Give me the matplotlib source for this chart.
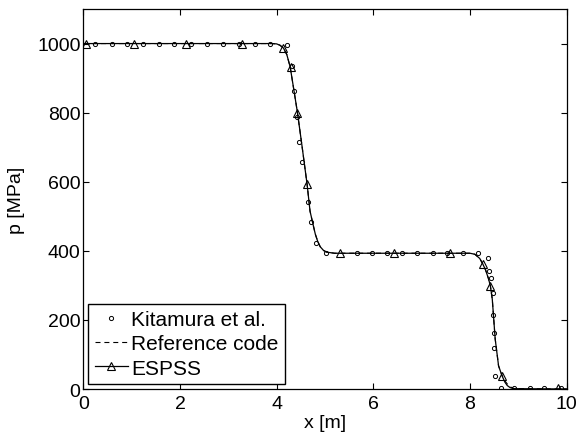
import matplotlib
matplotlib.use("Agg")
import matplotlib.pyplot as plt
from matplotlib.lines import Line2D

plt.rcParams['font.family'] = ['Liberation Sans', 'DejaVu Sans']

# Kitamura et al. (circles)
kit_x = [0.24, 0.59, 0.90, 1.24, 1.57, 1.88, 2.22, 2.56, 2.89, 3.23, 3.55, 3.87,
         4.22, 4.31, 4.36, 4.42, 4.47, 4.52, 4.64, 4.71, 4.81, 5.02,
         5.66, 5.97, 6.28, 6.59, 6.90, 7.23, 7.52, 7.85, 8.16, 8.38, 8.40,
         8.44, 8.47, 8.47, 8.49, 8.50, 8.52, 8.64, 8.90, 9.23, 9.54, 9.88]
kit_p = [1000, 1000, 1000, 1000, 1000, 1000, 1000, 1000, 1000, 1000, 1000, 1000,
         995, 934, 862, 787, 716, 656, 540, 483, 424, 395,
         393, 393, 393, 393, 393, 393, 393, 393, 395, 380, 342,
         320, 279, 215, 162, 119, 39, 4, 3, 3, 3, 3]

# ESPSS (solid line)
esp_x = [0.0, 3.90, 4.00, 4.07, 4.14, 4.21, 4.28, 4.36, 4.43, 4.52, 4.63, 4.69,
         4.75, 4.80, 4.85, 4.90, 4.97, 5.04, 5.20, 8.00, 8.10, 8.20, 8.26, 8.32,
         8.38, 8.42, 8.46, 8.52, 8.59, 8.66, 8.72, 8.77, 8.83, 8.90, 10.0]
esp_p = [1000, 1000, 999, 995, 987, 968, 932, 862, 800, 708, 592, 515,
         478, 448, 427, 412, 401, 396, 393, 393, 390, 378, 363, 345,
         320, 299, 260, 145, 67, 39, 20, 10, 4, 1, 0]

# ESPSS markers (triangles)
esp_mx = [0.05, 1.04, 2.13, 3.28, 4.14, 4.29, 4.43, 4.63, 5.31, 6.42, 7.58,
          8.26, 8.42, 8.66, 9.81]
esp_mp = [1000, 1000, 1000, 1000, 987, 932, 800, 592, 394, 394, 394,
          363, 299, 39, 2]

# Reference code (dashed line)
ref_x = [0.0, 3.90, 4.00, 4.07, 4.14, 4.21, 4.28, 4.36, 4.43, 4.52, 4.63, 4.69,
         4.75, 4.80, 4.85, 4.90, 4.97, 5.04, 5.20, 8.00, 8.10, 8.20, 8.26, 8.32,
         8.38, 8.42, 8.46, 8.52, 8.59, 8.66, 8.73, 8.79, 8.85, 8.92, 10.0]
ref_p = [1000, 1000, 999, 995, 987, 968, 932, 862, 800, 708, 592, 515,
         478, 448, 427, 412, 401, 396, 393, 393, 390, 378, 363, 345,
         320, 299, 260, 145, 67, 40, 22, 11, 5, 1, 0]

fig = plt.figure(figsize=(5.78, 4.39), dpi=100)
ax = fig.add_axes([0.1441, 0.1116, 0.9805 - 0.1441, 0.9772 - 0.1116])

DASH = (4.5, 3.5)
ax.plot(ref_x, ref_p, color='black', linestyle=(0, DASH), linewidth=0.8)
ax.plot(esp_x, esp_p, color='black', linestyle='-', linewidth=0.9)
ax.plot(esp_mx, esp_mp, linestyle='none', marker='^', markersize=6,
        markerfacecolor='none', markeredgecolor='black', markeredgewidth=0.8)
ax.plot(kit_x, kit_p, linestyle='none', marker='o', markersize=3,
        markerfacecolor='none', markeredgecolor='black', markeredgewidth=0.7)

ax.set_xlim(0, 10)
ax.set_ylim(0, 1100)
ax.set_xticks([0, 2, 4, 6, 8, 10])
ax.set_yticks([0, 200, 400, 600, 800, 1000])
ax.tick_params(direction='in', length=4, width=0.8, top=True, right=True,
               labelsize=14)
ax.tick_params(axis='x', pad=4)
ax.tick_params(axis='y', pad=2)
for s in ax.spines.values():
    s.set_linewidth(0.9)
ax.set_xlabel('x [m]', fontsize=14, labelpad=2)
ax.set_ylabel('p [MPa]', fontsize=14, labelpad=9)

handles = [
    Line2D([], [], linestyle='none', marker='o', markersize=3,
           markerfacecolor='none', markeredgecolor='black', markeredgewidth=0.7),
    Line2D([], [], color='black', linestyle=(0, DASH), linewidth=0.8),
    Line2D([], [], color='black', linestyle='-', linewidth=0.9, marker='^',
           markersize=6, markerfacecolor='none', markeredgecolor='black',
           markeredgewidth=0.8),
]
leg = ax.legend(handles, ['Kitamura et al.', 'Reference code', 'ESPSS'],
                loc='lower left', bbox_to_anchor=(0.0, 0.0), fontsize=15,
                frameon=True, fancybox=False, framealpha=1, edgecolor='black',
                handlelength=1.6, handletextpad=0.15, borderpad=0.3,
                labelspacing=0.25, borderaxespad=0.25)
leg.get_frame().set_linewidth(1.0)

fig.savefig('out.png', dpi=100)
